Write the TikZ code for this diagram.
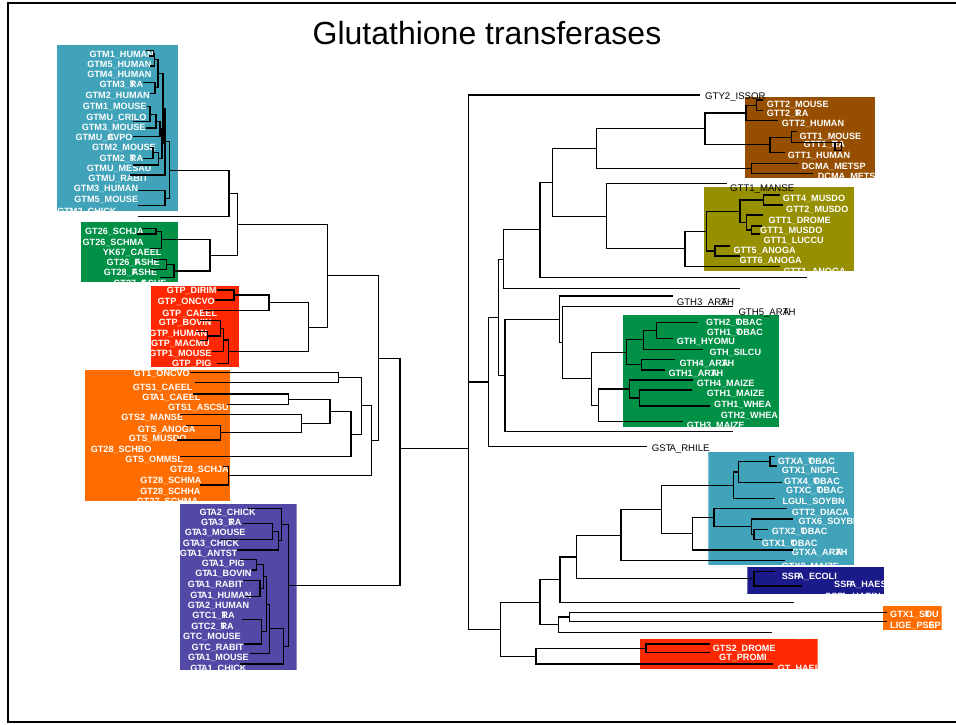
\documentclass[tikz,border=0pt]{standalone}
\usepackage{fontspec}
\setmainfont{Liberation Sans}
\definecolor{gtmteal}{HTML}{41A3B9}
\definecolor{gtgreen}{HTML}{009146}
\definecolor{gtred}{HTML}{FF2800}
\definecolor{gtorange}{HTML}{FF6C00}
\definecolor{gtpurple}{HTML}{5149A5}
\definecolor{gtbrown}{HTML}{964F00}
\definecolor{gtolive}{HTML}{968F00}
\definecolor{gtnavy}{HTML}{1B1A8A}
\newcommand\lblfont{\fontsize{9.1}{9.5}\selectfont}
\newcommand\blkfont{\fontsize{9.6}{10}\selectfont}
% overprinted glyph pairs and tight kerning as printed in the labels
\newcommand\ovp[2]{\rlap{#1}#2}
\newcommand\TA{T\kern-.22em A}
\newcounter{tipn}
% white labels: left tree (right aligned) and right tree (left aligned)
\newcommand\Lw[3]{\stepcounter{tipn}\edef\tipname{tip\arabic{tipn}}%
  \node[wl,anchor=base east] (\tipname) at (#1,#2+3.3) {#3};}
\newcommand\Rw[3]{\stepcounter{tipn}\edef\tipname{tip\arabic{tipn}}%
  \node[wl,anchor=base west] (\tipname) at (#1,#2+3.3) {#3};}
\newcommand\Rb[3]{\stepcounter{tipn}\edef\tipname{tip\arabic{tipn}}%
  \node[bl,anchor=base west] (\tipname) at (#1,#2+3.4) {#3};}
% clade bracket: node x, child 1 (x,y), child 2 (x,y)
\newcommand\cl[5]{\draw[br] (#2,#3) -| (#1,#5) -- (#4,#5);}
% colour box with its labels clipped to it
\newenvironment{cbox}[5]{\begin{scope}\clip (#1,#2) rectangle (#3,#4);
  \fill[#5] (#1,#2) rectangle (#3,#4);}{\end{scope}}
\begin{document}
\begin{tikzpicture}[x=1pt,y=-1pt,
  br/.style={line width=1.1pt,black,line join=miter},
  wl/.style={font=\lblfont\bfseries,text=white,inner sep=0pt},
  bl/.style={font=\blkfont,text=black,inner sep=0pt}]
\useasboundingbox (0,0) rectangle (956,725);
\fill[white] (0,0) rectangle (956,725);

% ---------------- coloured groups and labels ----------------
\begin{cbox}{57}{45}{178}{210.7}{gtmteal}
 \Lw{154}{54}{GTM1\_HUMAN}
 \Lw{151.7}{64.3}{GTM5\_HUMAN}
 \Lw{151.7}{74.3}{GTM4\_HUMAN}
 \Lw{143.3}{84.7}{GTM3\_\ovp{T}{R}A}
 \Lw{150}{95.3}{GTM2\_HUMAN}
 \Lw{146.7}{105.7}{GTM1\_MOUSE}
 \Lw{146.7}{116.7}{GTMU\_CRILO}
 \Lw{145.7}{127}{GTM3\_MOUSE}
 \Lw{132.7}{137}{GTMU\_\ovp{C}{A}VPO}
 \Lw{156}{147.3}{GTM2\_MOUSE}
 \Lw{143.3}{158}{GTM2\_\ovp{T}{R}A}
 \Lw{151.7}{167.7}{GTMU\_MESAU}
 \Lw{148.3}{178.3}{GTMU\_RABIT}
 \Lw{138.3}{188.3}{GTM3\_HUMAN}
 \Lw{138.3}{199.3}{GTM5\_MOUSE}
 \Lw{116.7}{211.5}{GTM2\_CHICK}
\end{cbox}
\begin{cbox}{81}{222.3}{178.3}{281.7}{gtgreen}
 \Lw{144}{230.7}{GT26\_SCHJA}
 \Lw{144}{241.7}{GT26\_SCHMA}
 \Lw{161.7}{251.7}{YK67\_CAEEL}
 \Lw{160}{261.7}{GT26\_\ovp{F}{A}SHE}
 \Lw{157.3}{272.3}{GT28\_\ovp{F}{A}SHE}
 \Lw{166.7}{283}{GT27\_\ovp{F}{A}SHE}
\end{cbox}
\begin{cbox}{151}{286}{239}{366.7}{gtred}
 \Lw{216.7}{290}{GTP\_DIRIM}
 \Lw{215}{301}{GTP\_ONCVO}
 \Lw{217.3}{312.7}{GTP\_CAEEL}
 \Lw{211.7}{322}{GTP\_BOVIN}
 \Lw{207.3}{332.7}{GTP\_HUMAN}
 \Lw{210}{342.7}{GTP\_MACMU}
 \Lw{211.7}{352.7}{GTP1\_MOUSE}
 \Lw{211.7}{363.3}{GTP\_PIG}
\end{cbox}
\begin{cbox}{85}{370}{230}{500.7}{gtorange}
 \Lw{190}{373.3}{GT1\_ONCVO}
 \Lw{192.7}{386.7}{GTS1\_CAEEL}
 \Lw{200.7}{397.3}{G\TA1\_CAEEL}
 \Lw{229}{406.7}{GTS1\_ASCSU}
 \Lw{183.3}{417.3}{GTS2\_MANSE}
 \Lw{195.7}{429}{GTS\_ANOGA}
 \Lw{186.7}{438.3}{GTS\_MUSDO}
 \Lw{151.7}{449}{GT28\_SCHBO}
 \Lw{183.3}{459}{GTS\_OMMSL}
 \Lw{229}{469.3}{GT28\_SCHJA}
 \Lw{201.7}{480}{GT28\_SCHMA}
 \Lw{200.7}{491}{GT28\_SCHHA}
 \Lw{198.3}{501.5}{GT27\_SCHMA}
\end{cbox}
\begin{cbox}{180}{504}{296.7}{670}{gtpurple}
 \Lw{256}{511.7}{G\TA2\_CHICK}
 \Lw{241.7}{521.7}{G\TA3\_\ovp{T}{R}A}
 \Lw{245.7}{531.7}{G\TA3\_MOUSE}
 \Lw{239.3}{542.7}{G\TA3\_CHICK}
 \Lw{237.7}{552.7}{G\TA1\_ANTST}
 \Lw{245}{563.3}{G\TA1\_PIG}
 \Lw{251.7}{573.3}{G\TA1\_BOVIN}
 \Lw{243.3}{584}{G\TA1\_RABIT}
 \Lw{251.7}{594.7}{G\TA1\_HUMAN}
 \Lw{249.3}{605.3}{G\TA2\_HUMAN}
 \Lw{235}{615}{GTC1\_\ovp{T}{R}A}
 \Lw{234}{625.7}{GTC2\_\ovp{T}{R}A}
 \Lw{241}{636}{GTC\_MOUSE}
 \Lw{244}{646.7}{GTC\_RABIT}
 \Lw{249}{656.7}{G\TA1\_MOUSE}
 \Lw{246.7}{668}{G\TA1\_CHICK}
\end{cbox}
\begin{cbox}{745}{97.3}{875}{178.3}{gtbrown}
 \Rw{766.7}{104.3}{GTT2\_MOUSE}
 \Rw{766.7}{113.7}{GTT2\_\ovp{T}{R}A}
 \Rw{781.7}{123.3}{GTT2\_HUMAN}
 \Rw{799.3}{135.7}{GTT1\_MOUSE}
 \Rw{803.3}{144}{GTT1\_\ovp{T}{R}A}
 \Rw{787.7}{155.3}{GTT1\_HUMAN}
 \Rw{801.7}{166}{DCMA\_METSP}
 \Rw{817.7}{175.7}{DCMA\_METSA}
\end{cbox}
\begin{cbox}{704}{187.3}{854.3}{270.7}{gtolive}
 \Rw{782.7}{197.7}{GTT4\_MUSDO}
 \Rw{786}{209}{GTT2\_MUSDO}
 \Rw{768.3}{220}{GTT1\_DROME}
 \Rw{760}{230}{GTT1\_MUSDO}
 \Rw{763.3}{240}{GTT1\_LUCCU}
 \Rw{733.3}{250}{GTT5\_ANOGA}
 \Rw{739.3}{260}{GTT6\_ANOGA}
 \Rw{783.3}{271}{GTT1\_ANOGA}
\end{cbox}
\begin{cbox}{622.7}{315}{779}{426.7}{gtgreen}
 \Rw{706}{322}{GTH2\_\ovp{T}{O}BAC}
 \Rw{706.7}{331.7}{GTH1\_\ovp{T}{O}BAC}
 \Rw{676.7}{341}{GTH\_HYOMU}
 \Rw{709.3}{351.7}{GTH\_SILCU}
 \Rw{679.3}{363.3}{GTH4\_AR\ovp{A}{T}H}
 \Rw{668.3}{373.3}{GTH1\_AR\ovp{A}{T}H}
 \Rw{696.7}{382.7}{GTH4\_MAIZE}
 \Rw{706.7}{393.3}{GTH1\_MAIZE}
 \Rw{714}{403.7}{GTH1\_WHEA}
 \Rw{720.7}{415}{GTH2\_WHEA}
 \Rw{686.7}{424.8}{GTH3\_MAIZE}
\end{cbox}
\begin{cbox}{708.3}{451.7}{854}{565}{gtmteal}
 \Rw{777.7}{460.7}{GTXA\_\ovp{T}{O}BAC}
 \Rw{781.7}{470}{GTX1\_NICPL}
 \Rw{784}{480.7}{GTX4\_\ovp{T}{O}BAC}
 \Rw{786}{490}{GTXC\_\ovp{T}{O}BAC}
 \Rw{782.3}{500.7}{LGUL\_SOYBN}
 \Rw{791.7}{511.7}{GTT2\_DIACA}
 \Rw{798.3}{521}{GTX6\_SOYBN}
 \Rw{771.7}{531}{GTX2\_\ovp{T}{O}BAC}
 \Rw{761.7}{543.3}{GTX1\_\ovp{T}{O}BAC}
 \Rw{791.7}{551.7}{GTXA\_AR\ovp{A}{T}H}
 \Rw{781.7}{566}{GTX3\_MAIZE}
\end{cbox}
\begin{cbox}{747.3}{566.7}{884}{594.3}{gtnavy}
 \Rw{781.7}{576}{SSP\kern-.3em A\_ECOLI}
 \Rw{834}{584}{SSP\kern-.3em A\_HAESO}
 \Rw{825}{596}{SSP\kern-.3em A\_HAEIN}
\end{cbox}
\begin{cbox}{882.7}{606}{941.7}{630}{gtorange}
 \Rw{890}{614}{GTX1\_S\ovp{L}{\ovp{T}{O}}U}
 \Rw{890}{625}{LIGE\_PS\ovp{E}{S}P}
\end{cbox}
\begin{cbox}{640}{639.3}{817.7}{669.3}{gtred}
 \Rw{775}{635.5}{LIGE\_PSEPA}
 \Rw{712.7}{647.7}{GTS2\_DROME}
 \Rw{719}{657}{GT\_PROMI}
 \Rw{777.7}{668}{GT\_HAEIN}
\end{cbox}

% labels set in black outside the groups
\Rb{705}{96}{GTY2\_ISSOR}
\Rb{730}{188.3}{GTT1\_MANSE}
\Rb{676.7}{301.7}{GTH3\_AR\ovp{A}{T}H}
\Rb{738.3}{312.3}{GTH5\_AR\ovp{A}{T}H}
\Rb{651.7}{448.3}{GS\TA\_RHILE}

% ---------------- left tree (root to the right) ----------------
% GTM group
\cl{153.3}{146}{50.5}{149}{56}
\cl{154.5}{153.3}{53.25}{150}{66}
\cl{155}{143.3}{82.3}{150}{93.3}
\cl{158}{154.5}{59.6}{155}{87.8}
\cl{150}{146.7}{106.7}{133}{121.7}
\cl{156}{150}{114.2}{146}{128}
\cl{160}{156}{121.1}{133.3}{136.7}
\cl{153}{150}{147.3}{143}{158.3}
\cl{158.3}{153}{152.8}{133}{165}
\cl{162}{160}{128.9}{158.3}{158.9}
\cl{163}{158}{73.7}{162}{143.9}
\cl{165}{163}{108.8}{130}{175}
\cl{165}{138.3}{190.7}{138.3}{205.7}
\cl{169.3}{165}{141.9}{165}{198.2}
\cl{229}{169.3}{170.05}{138}{216.7}
% GT26 group
\cl{156}{141.7}{228.3}{136.7}{234}
\cl{161.7}{156}{231.15}{150}{248.7}
\cl{166.7}{153.3}{259.3}{150}{269.3}
\cl{174}{166.7}{264.3}{160}{277.7}
\cl{210}{161.7}{239.9}{174}{271}
\cl{237.3}{229}{193.4}{210}{255.45}
% GTP group
\cl{234}{216.7}{290}{215}{300}
\cl{269}{234}{295}{203}{310.7}
\cl{207.3}{196}{331.7}{200}{340.3}
\cl{220.7}{200}{320.7}{207.3}{336}
\cl{223.3}{220.7}{328.35}{211.7}{351.7}
\cl{228.3}{223.3}{340}{217.3}{363.3}
\cl{308.3}{269}{302.85}{228.3}{351.65}
\cl{327.3}{237.3}{224.4}{308.3}{327.25}
% GTS group
\cl{338.3}{190}{372.7}{195}{382.7}
\cl{288.3}{193}{394}{226.7}{404.3}
\cl{220.7}{186}{425.7}{176.7}{440}
\cl{301.7}{180}{414.3}{220.7}{432.85}
\cl{330}{288.3}{399.15}{301.7}{423.6}
\cl{351}{330}{411.4}{180}{456.7}
\cl{361.7}{338.3}{377.7}{351}{434.05}
\cl{228.3}{223.3}{466.7}{200}{485}
\cl{371.7}{361.7}{405.9}{228.3}{475.85}
\cl{378.3}{327.3}{275.8}{371.7}{440.9}
% GTA group
\cl{272.3}{243.3}{523.3}{220}{539.3}
\cl{278.3}{272.3}{531.3}{236.7}{550}
\cl{281.7}{248.3}{508.3}{278.3}{540.65}
\cl{256.7}{240}{559.3}{251.7}{570}
\cl{260}{243.3}{580.7}{245}{596.7}
\cl{263.3}{256.7}{564.65}{260}{588.7}
\cl{261.7}{241.7}{619.3}{244}{644}
\cl{266.7}{263.3}{576.7}{261.7}{631.65}
\cl{269.3}{266.7}{604.2}{250}{653.3}
\cl{283.3}{269.3}{628.75}{240}{664}
\cl{288.3}{281.7}{524.5}{283.3}{646.4}
\cl{400}{378.3}{358.35}{288.3}{585.45}

% ---------------- root ----------------
\coordinate (root) at (468.3,448.3);
\draw[br] (700,95) -- (468.3,95) -- (468.3,629.2) -- (500.7,629.2);
\draw[br] (468.3,382) -- (488.3,382);
\draw[br] (400,448.3) -- (root);

% ---------------- right tree ----------------
% GTT / DCMA groups
\cl{756.7}{763}{100}{763.3}{110.7}
\cl{746}{756.7}{105.35}{778.3}{120.7}
\cl{791.7}{796.7}{131.7}{835}{142.7}
\draw[br] (835,142.7) -- (841.7,142.7) -- (841.7,150.7) -- (835,150.7) -- (835,142.7);
\cl{770}{791.7}{137.2}{785}{152.3}
\cl{705}{746}{113}{770}{144.75}
\cl{751.7}{798.3}{163.3}{813.3}{173.3}
\cl{596.7}{705}{128.9}{751.7}{168.3}
\cl{763.3}{780}{195}{783.3}{205}
\cl{751.7}{761.7}{226}{760}{234}
\cl{746.7}{763.3}{215}{751.7}{230}
\cl{740}{763.3}{200}{746.7}{222.5}
\cl{715}{730}{246}{740}{256}
\cl{706.7}{740}{211.25}{715}{251}
\cl{685}{706.7}{231.1}{780}{266.7}
\cl{606.7}{726.7}{183.3}{685}{248.9}
\cl{552.3}{596.7}{148.6}{606.7}{216.1}
\cl{540}{552.3}{182.35}{806.7}{277.3}
\cl{503.3}{540}{229.8}{740}{288.3}
% GTH group
\cl{656.7}{698.3}{322.7}{672.7}{338.3}
\cl{643.3}{656.7}{330.5}{703.3}{349.3}
\cl{641.7}{675}{359.3}{665}{370}
\cl{626.7}{643.3}{339.9}{641.7}{364.65}
\cl{639.3}{691.7}{390}{710}{406}
\cl{629.3}{693.3}{380}{639.3}{398}
\cl{598.3}{629.3}{389}{683.3}{421.7}
\cl{591.7}{626.7}{352.3}{598.3}{405.35}
\cl{562.7}{733.3}{306.7}{591.7}{378.8}
\cl{559.3}{673.3}{296}{562.7}{342.75}
\cl{505}{559.3}{319.4}{733.3}{431.7}
\cl{498.3}{503.3}{259.05}{505}{375.55}
\cl{488.3}{498.3}{317.3}{646.7}{446.7}
% GTX / SSPA / lower groups
\cl{770}{775}{456.7}{776.7}{466}
\cl{738.3}{770}{461.35}{781.7}{482.7}
\cl{733.3}{738.3}{472}{775}{498.3}
\cl{754}{768.3}{529.3}{761.7}{539.3}
\cl{751.7}{793.3}{519}{754}{534.3}
\cl{714}{786.7}{508.3}{751.7}{526.65}
\cl{692.7}{714}{517.5}{793.3}{550}
\cl{661.7}{733.3}{485.15}{692.7}{533.75}
\cl{621}{661.7}{509.45}{785}{560.7}
\cl{754}{775}{571.7}{801.7}{586}
\cl{576.7}{621}{535.1}{754}{578.85}
\cl{560}{576.7}{557}{794.3}{602.3}
\cl{569.3}{886.7}{612.3}{886.7}{621.7}
\cl{558.3}{569.3}{617}{771.7}{632.7}
\cl{540}{560}{579.65}{558.3}{624.85}
\cl{646}{710}{644}{710}{652.7}
\cl{536}{646}{648.35}{773.3}{664}
\cl{500.7}{540}{602.25}{536}{656.2}

% ---------------- frame and title ----------------
\draw[line width=1.3pt] (8,3) rectangle (962,722);
\node[font=\fontsize{32}{38}\selectfont,anchor=base,inner sep=0pt] (title) at (487,45) {Glutathione transferases};
\end{tikzpicture}
\end{document}
